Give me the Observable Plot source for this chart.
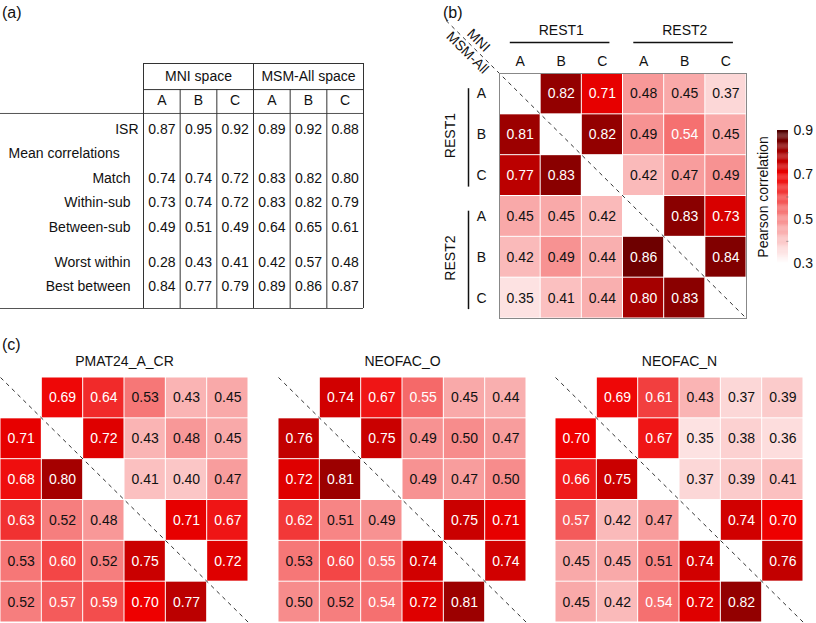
<!DOCTYPE html>
<html><head><meta charset="utf-8">
<script src="https://cdn.jsdelivr.net/npm/d3@7"></script>
<script src="https://cdn.jsdelivr.net/npm/@observablehq/plot@0.6"></script>
<style>
body{margin:0;background:#fff;}
#fig{position:relative;width:816px;height:623px;overflow:hidden;font-family:"Liberation Sans",Arial,Helvetica,sans-serif;color:#111;}
.lab{position:absolute;font-size:16px;line-height:18px;}
</style></head><body><div id="fig"></div>
<script>
// ---------------- DATA ----------------
// (a) table
const tableSpaces = ["MNI space", "MSM-All space"];
const tableSubjects = ["A", "B", "C", "A", "B", "C"];
const tableRowNames = ["ISR", "Mean correlations", "Match", "Within-sub", "Between-sub", "Worst within", "Best between"];
const isrValues        = [0.87, 0.95, 0.92, 0.89, 0.92, 0.88];
const matchValues      = [0.74, 0.74, 0.72, 0.83, 0.82, 0.80];
const withinSubValues  = [0.73, 0.74, 0.72, 0.83, 0.82, 0.79];
const betweenSubValues = [0.49, 0.51, 0.49, 0.64, 0.65, 0.61];
const worstWithinValues= [0.28, 0.43, 0.41, 0.42, 0.57, 0.48];
const bestBetweenValues= [0.84, 0.77, 0.79, 0.89, 0.86, 0.87];

// (b) matrix: rows/cols REST1 A,B,C then REST2 A,B,C (upper = MNI, lower = MSM-All)
const restLabels = ["REST1", "REST2"];
const subjectLabels = ["A", "B", "C"];
const spaceLabels = ["MNI", "MSM-All"];
const restMatrix = [
  [null, 0.82, 0.71, 0.48, 0.45, 0.37],
  [0.81, null, 0.82, 0.49, 0.54, 0.45],
  [0.77, 0.83, null, 0.42, 0.47, 0.49],
  [0.45, 0.45, 0.42, null, 0.83, 0.73],
  [0.42, 0.49, 0.44, 0.86, null, 0.84],
  [0.35, 0.41, 0.44, 0.80, 0.83, null]
];
const colorbarTicks = [0.3, 0.5, 0.7, 0.9];
const colorbarLabel = "Pearson correlation";

// (c) behavioural-measure matrices
const taskTitles = ["PMAT24_A_CR", "NEOFAC_O", "NEOFAC_N"];
const pmatMatrix = [
  [null, 0.69, 0.64, 0.53, 0.43, 0.45],
  [0.71, null, 0.72, 0.43, 0.48, 0.45],
  [0.68, 0.80, null, 0.41, 0.40, 0.47],
  [0.63, 0.52, 0.48, null, 0.71, 0.67],
  [0.53, 0.60, 0.52, 0.75, null, 0.72],
  [0.52, 0.57, 0.59, 0.70, 0.77, null]
];
const neoOMatrix = [
  [null, 0.74, 0.67, 0.55, 0.45, 0.44],
  [0.76, null, 0.75, 0.49, 0.50, 0.47],
  [0.72, 0.81, null, 0.49, 0.47, 0.50],
  [0.62, 0.51, 0.49, null, 0.75, 0.71],
  [0.53, 0.60, 0.55, 0.74, null, 0.74],
  [0.50, 0.52, 0.54, 0.72, 0.81, null]
];
const neoNMatrix = [
  [null, 0.69, 0.61, 0.43, 0.37, 0.39],
  [0.70, null, 0.67, 0.35, 0.38, 0.36],
  [0.66, 0.75, null, 0.37, 0.39, 0.41],
  [0.57, 0.42, 0.47, null, 0.74, 0.70],
  [0.45, 0.45, 0.51, 0.74, null, 0.76],
  [0.45, 0.42, 0.54, 0.72, 0.82, null]
];

// ---------------- RENDER ----------------
const fig = document.getElementById("fig");
function place(el, left, top) { el.style.position = "absolute"; el.style.left = left + "px"; el.style.top = top + "px"; fig.appendChild(el); }
function label(t, left, top) { const d = document.createElement("div"); d.className = "lab"; d.textContent = t; place(d, left, top); }
const FONT = '"Liberation Sans", Arial, Helvetica, sans-serif';
const baseStyle = {fontFamily: FONT, fontSize: "14px", color: "#111", background: "transparent", overflow: "visible"};
const colorScale = {type: "linear", domain: [0.3, 0.5, 0.7, 0.8, 0.9],
  range: ["#ffffff", "#f78c8c", "#ee0000", "#a50000", "#4a0000"], interpolate: "rgb"};
const WHITE_TEXT_FROM = 0.535;

// ---- (a) table ----
const rowValues = {"ISR": isrValues, "Match": matchValues, "Within-sub": withinSubValues,
  "Between-sub": betweenSubValues, "Worst within": worstWithinValues, "Best between": bestBetweenValues};
const rowPos = i => i + (i >= 5 ? 0.45 : 0);
const tableRows = tableRowNames.map((name, i) => ({name, i, y: rowPos(i), values: rowValues[name]}));
const tableCells = tableRows.filter(r => r.values).flatMap(r => r.values.map((v, j) => ({x: j + 0.5, y: r.y, v})));
const yTop = -2.71, yMid = -1.64, yHead = -0.66, yBot = 7.34, xLeft = -3.9;
const tablePlot = Plot.plot({
  width: 400, height: 320, style: baseStyle,
  x: {domain: [0, 6], range: [143, 363], axis: null},
  y: {domain: [yTop, yBot], range: [63, 308], axis: null},
  marks: [
    Plot.ruleY([yTop, yMid], {x1: 0, x2: 6, stroke: "#333"}),
    Plot.ruleY([yHead, yBot], {x1: xLeft, x2: 6, stroke: "#555"}),
    Plot.ruleX(d3.range(7), {y1: j => (j % 3 === 0 ? yTop : yMid), y2: yBot, stroke: "#333"}),
    Plot.text(tableSpaces, {x: (d, i) => i * 3 + 1.5, y: -2.17, text: d => d, fontSize: 14}),
    Plot.text(tableSubjects, {x: (d, i) => i + 0.5, y: -1.19, text: d => d, fontSize: 14}),
    Plot.text(tableRows.filter(r => r.name === "ISR"), {x: 0, y: "y", text: "name", textAnchor: "end", dx: -5, fontSize: 14}),
    Plot.text(tableRows.filter(r => !r.values), {x: 0, y: "y", text: "name", textAnchor: "start", dx: -135, fontSize: 14}),
    Plot.text(tableRows.filter(r => r.values && r.name !== "ISR"), {x: 0, y: "y", text: "name", textAnchor: "end", dx: -13, fontSize: 14}),
    Plot.text(tableCells, {x: "x", y: "y", text: d => d.v.toFixed(2), fontSize: 14})
  ]
});
place(tablePlot, 0, 0);

// ---- matrix helpers ----
const cellsOf = m => m.flatMap((row, r) => row.map((v, c) => ({r, c, v}))).filter(d => d.v != null);
function matrixMarks(matrix, ext) {
  const cells = cellsOf(matrix);
  const pos = {x: d => d.c + 0.5, y: d => d.r + 0.5, text: d => d.v.toFixed(2), fontSize: 14};
  return [
    Plot.rect(cells, {x1: "c", x2: d => d.c + 1, y1: "r", y2: d => d.r + 1, fill: "v", inset: 0.5}),
    Plot.text(cells.filter(d => d.v >= WHITE_TEXT_FROM), {...pos, fill: "white"}),
    Plot.text(cells.filter(d => d.v < WHITE_TEXT_FROM), {...pos, fill: "#111"}),
    Plot.link([ext], {x1: d => -d, y1: d => -d, x2: 6, y2: 6, stroke: "#333", strokeWidth: 1, strokeDasharray: "4,4"})
  ];
}

// ---- (b) ----
const axisLabels6 = restLabels.flatMap(() => subjectLabels);
const bPlot = Plot.plot({
  width: 416, height: 325, marginLeft: 99, marginRight: 70, marginTop: 73, marginBottom: 7,
  style: baseStyle,
  x: {domain: [0, 6], axis: null},
  y: {domain: [0, 6], reverse: true, axis: null},
  color: colorScale,
  marks: [
    ...matrixMarks(restMatrix, 1.3),
    Plot.frame({stroke: "#888", strokeWidth: 1}),
    Plot.text(axisLabels6, {x: (d, i) => i + 0.5, y: 0, dy: -12, text: d => d, fontSize: 14}),
    Plot.text(restLabels, {x: (d, i) => i * 3 + 1.5, y: 0, dy: -43, text: d => d, fontSize: 14}),
    Plot.link(restLabels, {x1: (d, i) => i * 3 + 0.25, x2: (d, i) => i * 3 + 2.67, y1: 0, y2: 0, dy: -31, stroke: "#111", strokeWidth: 1.5}),
    Plot.text(axisLabels6, {x: 0, dx: -18, y: (d, i) => i + 0.5, text: d => d, fontSize: 14}),
    Plot.link(restLabels, {x1: 0, x2: 0, dx: -31, y1: (d, i) => i * 3 + 0.36, y2: (d, i) => i * 3 + 2.77, stroke: "#111", strokeWidth: 1.5}),
    Plot.text(restLabels, {x: 0, dx: -49, y: (d, i) => i * 3 + 1.52, text: d => d, rotate: -90, fontSize: 14}),
    Plot.text([spaceLabels[0]], {x: -0.51, y: -0.81, text: d => d, rotate: 45, fontSize: 14}),
    Plot.text([spaceLabels[1]], {x: -0.78, y: -0.51, text: d => d, rotate: 45, fontSize: 14})
  ]
});
place(bPlot, 400, 0);

// ---- colour bar ----
const gradSteps = d3.range(0.3, 0.9, 0.005);
const cbar = Plot.plot({
  width: 76, height: 170, marginLeft: 37, marginRight: 28, marginTop: 20, marginBottom: 17,
  style: baseStyle,
  x: {domain: [0, 1], axis: null},
  y: {domain: [0.3, 0.9]},
  color: colorScale,
  marks: [
    Plot.rect(gradSteps, {x1: 0, x2: 1, y1: d => d, y2: d => Math.min(0.9, d + 0.0055), fill: d => d + 0.0025}),
    Plot.link([0.4, 0.6, 0.8], {x1: 0.8, x2: 1, y1: d => d, y2: d => d, stroke: "#555", strokeOpacity: 0.5}),
    Plot.axisY(colorbarTicks, {anchor: "right", tickSize: 0, tickPadding: 5, tickFormat: d => d.toFixed(1), fontSize: 14, label: null}),
    Plot.text([colorbarLabel], {frameAnchor: "left", textAnchor: "middle", lineAnchor: "middle", dx: -14, rotate: -90, text: d => d, fontSize: 14})
  ]
});
place(cbar, 740, 110);

// ---- (c) ----
const cMatrices = [pmatMatrix, neoOMatrix, neoNMatrix];
const cLefts = [0, 278, 555];
cMatrices.forEach((m, k) => {
  const p = Plot.plot({
    width: 248, height: 293, marginLeft: 0, marginRight: 0, marginTop: 47, marginBottom: 1,
    style: baseStyle,
    x: {domain: [0, 6], axis: null},
    y: {domain: [0, 6], reverse: true, axis: null},
    color: colorScale,
    marks: [
      ...matrixMarks(m, 0),
      Plot.text([taskTitles[k]], {frameAnchor: "top", lineAnchor: "middle", dy: -16, text: d => d, fontSize: 14})
    ]
  });
  place(p, cLefts[k], 330);
});

label("(a)", 2, 4);
label("(b)", 443, 4);
label("(c)", 2, 336);
</script></body></html>
